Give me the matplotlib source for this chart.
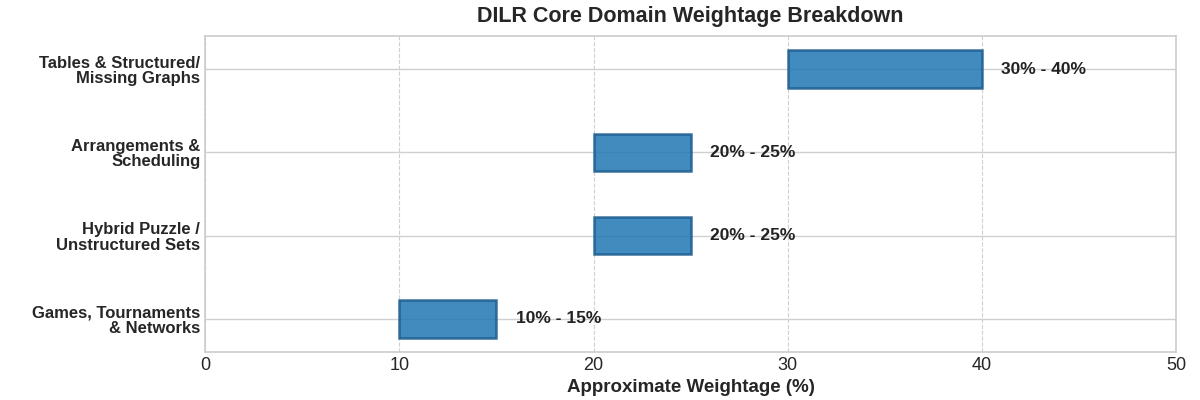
"""
DILR core domain weightage as floating horizontal bars.
"""
import matplotlib
matplotlib.use("Agg")
import matplotlib.pyplot as plt

# Domains listed bottom to top
domains = ['Games, Tournaments\n& Networks',
           'Hybrid Puzzle /\nUnstructured Sets',
           'Arrangements &\nScheduling',
           'Tables & Structured/\nMissing Graphs']
low = [10, 20, 20, 30]
high = [15, 25, 25, 40]
range_labels = ['10% - 15%', '20% - 25%', '20% - 25%', '30% - 40%']


def main():
    plt.style.use('seaborn-v0_8-whitegrid')
    plt.rcParams['font.family'] = ['Liberation Sans', 'DejaVu Sans']

    fig, ax = plt.subplots(figsize=(12, 4), dpi=100)

    widths = [h - l for l, h in zip(low, high)]
    ax.barh(domains, widths, left=low, height=0.45, color='#1f77b4', alpha=0.85,
            edgecolor='#1a5a8e', linewidth=1.8, zorder=3)

    for i, (h, lab) in enumerate(zip(high, range_labels)):
        ax.text(h + 1, i, lab, va='center', ha='left', fontsize=12.5,
                fontweight='bold', color='#222222', zorder=4)

    ax.set_xlim(0, 50)
    ax.grid(axis='x', linestyle='--', color='#d0d0d0', linewidth=0.8)
    ax.grid(axis='y', linestyle='-', color='#d0d0d0', linewidth=1.0)
    for s in ax.spines.values():
        s.set_visible(True)
        s.set_color('#cccccc')
        s.set_linewidth(1.2)

    ax.tick_params(axis='x', labelsize=13)
    for t in ax.get_yticklabels():
        t.set_fontweight('bold')
        t.set_fontsize(12)
        t.set_linespacing(1.05)

    ax.set_title('DILR Core Domain Weightage Breakdown', fontsize=15.5,
                 fontweight='bold', pad=10)
    ax.set_xlabel('Approximate Weightage (%)', fontsize=13.5, fontweight='bold')

    plt.subplots_adjust(left=0.171, right=0.98, top=0.91, bottom=0.12)
    plt.savefig('out.png', dpi=100)


if __name__ == "__main__":
    main()
